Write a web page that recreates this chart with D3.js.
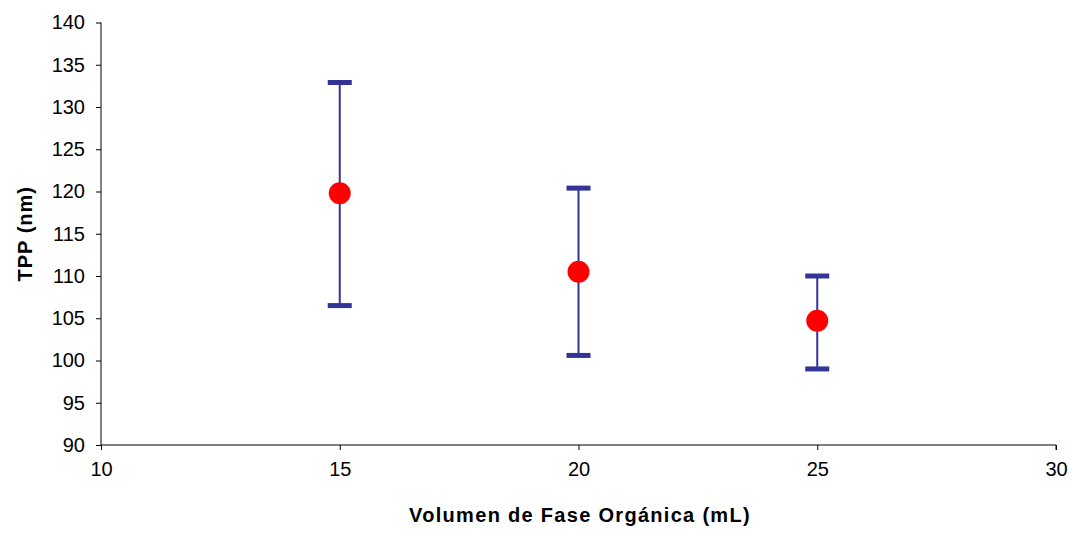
<!DOCTYPE html>
<html>
<head>
<meta charset="utf-8">
<script src="https://cdn.jsdelivr.net/npm/d3@7"></script>
<style>
  body { margin: 0; background: #fff; }
  text { font-family: "Liberation Sans", Arial, sans-serif; fill: #000; }
</style>
</head>
<body>
<svg id="chart"></svg>
<script>
// volumes (mL), mean TPP and error bar ends
const volumes = [15, 20, 25];
const tppMean = [119.8, 110.5, 104.7];
const tppHigh = [132.9, 120.4, 110.0];
const tppLow = [106.5, 100.6, 99.0];

const xTicks = [10, 15, 20, 25, 30];
const yTicks = [90, 95, 100, 105, 110, 115, 120, 125, 130, 135, 140];

const data = volumes.map((v, i) => ({vol: v, mean: tppMean[i], hi: tppHigh[i], lo: tppLow[i]}));

const width = 1072, height = 533;
const margin = {top: 22.5, right: 16, bottom: 88, left: 101};

const svg = d3.select("#chart")
    .attr("width", width)
    .attr("height", height);

const xScale = d3.scaleLinear()
    .domain([10, 30])
    .range([margin.left, width - margin.right]);

const yScale = d3.scaleLinear()
    .domain([90, 140])
    .range([height - margin.bottom, margin.top]);

// axes
const xAxis = d3.axisBottom(xScale).tickValues(xTicks).tickSize(5).tickPadding(12);
const yAxis = d3.axisLeft(yScale).tickValues(yTicks).tickSize(5).tickPadding(11);

const xAxisG = svg.append("g")
    .attr("transform", `translate(0,${yScale(90)})`)
    .call(xAxis);

const yAxisG = svg.append("g")
    .attr("transform", `translate(${xScale(10)},0)`)
    .call(yAxis);

svg.selectAll(".domain, .tick line").attr("stroke", "#000").attr("stroke-width", 1);
svg.selectAll(".tick text").style("font-size", "20px").style("font-family", "Liberation Sans, Arial, sans-serif");
yAxisG.selectAll(".domain").attr("d", `M-0,${yScale(140)}V${yScale(90)}`);
xAxisG.selectAll(".domain").attr("d", `M${xScale(10)},0H${xScale(30)}V5`);

// error bars
const bars = svg.append("g");
const capW = 12;

bars.selectAll(".err")
    .data(data)
    .join("line")
    .attr("x1", d => xScale(d.vol))
    .attr("x2", d => xScale(d.vol))
    .attr("y1", d => yScale(d.hi))
    .attr("y2", d => yScale(d.lo))
    .attr("stroke", "#333399")
    .attr("stroke-width", 2);

bars.selectAll(".capHi")
    .data(data)
    .join("line")
    .attr("x1", d => xScale(d.vol) - capW)
    .attr("x2", d => xScale(d.vol) + capW)
    .attr("y1", d => yScale(d.hi))
    .attr("y2", d => yScale(d.hi))
    .attr("stroke", "#333399")
    .attr("stroke-width", 5);

bars.selectAll(".capLo")
    .data(data)
    .join("line")
    .attr("x1", d => xScale(d.vol) - capW)
    .attr("x2", d => xScale(d.vol) + capW)
    .attr("y1", d => yScale(d.lo))
    .attr("y2", d => yScale(d.lo))
    .attr("stroke", "#333399")
    .attr("stroke-width", 5);

// points
svg.append("g")
    .selectAll("circle")
    .data(data)
    .join("circle")
    .attr("cx", d => xScale(d.vol))
    .attr("cy", d => yScale(d.mean))
    .attr("r", 11)
    .attr("fill", "#ff0000");

// axis titles
svg.append("text")
    .attr("x", 580)
    .attr("y", 522)
    .attr("text-anchor", "middle")
    .style("font-size", "20px")
    .style("font-weight", "bold")
    .style("letter-spacing", "1.3px")
    .text("Volumen de Fase Orgánica (mL)");

svg.append("text")
    .attr("transform", `translate(32,${(yScale(90) + yScale(140)) / 2}) rotate(-90)`)
    .attr("text-anchor", "middle")
    .style("font-size", "20px")
    .style("font-weight", "bold")
    .style("letter-spacing", "1px")
    .text("TPP (nm)");
</script>
</body>
</html>
